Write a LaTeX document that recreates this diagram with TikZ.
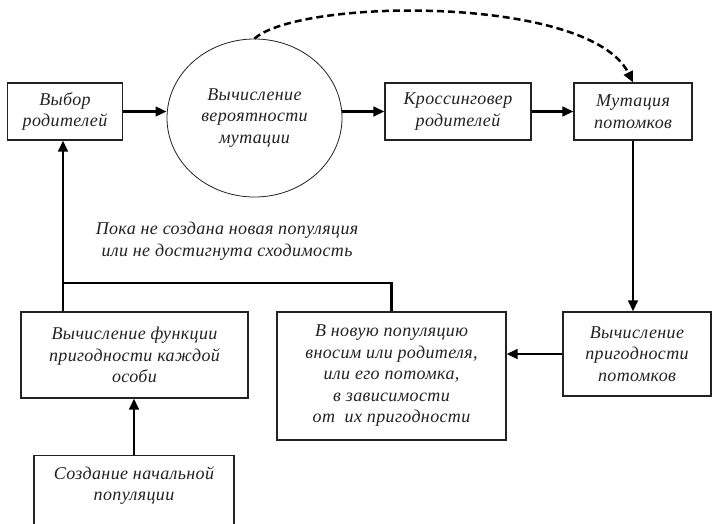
\documentclass[tikz,border=0pt]{standalone}
\usepackage{fontspec}
\setmainfont{Liberation Serif}
\usetikzlibrary{arrows.meta,shapes.geometric,calc}
\definecolor{ink}{HTML}{222222}
\begin{document}
\begin{tikzpicture}[x=1pt,y=-1pt,
  every node/.style={font=\fontsize{18}{21.5}\selectfont\itshape\addfontfeatures{LetterSpace=2}, text=ink, align=center},
  box/.style={draw=ink, line width=1.1pt, rectangle, inner sep=0pt},
  oval/.style={draw=ink, line width=0.8pt, ellipse, inner sep=0pt},
  conn/.style={draw=black, line width=2.5pt},
  arr/.style={conn, -{Triangle[length=11pt,width=9.5pt]}},
  dasharr/.style={arr, dash pattern=on 7pt off 4pt}]
\useasboundingbox (0,0) rectangle (712,523);
\fill[white] (0,0) rectangle (712,523);
% nodes
\node[box, minimum width=115, minimum height=57] (sel) at (65,111.5) {Выбор\\родителей};
\node[oval, minimum width=175, minimum height=158] (ell) at (254.5,118) {Вычисление\\вероятности\\мутации};
\node[box, minimum width=146, minimum height=57] (cross) at (458,111.5) {Кроссинговер\\родителей};
\node[box, minimum width=118, minimum height=57] (mut) at (633,111.5) {Мутация\\потомков};
\node[box, minimum width=148, minimum height=84] (calc) at (637,354) {Вычисление\\пригодности\\потомков};
\node[box, minimum width=229, minimum height=128] (newpop) at (391.5,376) {В новую популяцию\\вносим или родителя,\\или его потомка,\\в зависимости\\от\ \ их пригодности};
\node[box, minimum width=227, minimum height=86] (fit) at (134.5,355) {Вычисление функции\\пригодности каждой\\особи};
\node[box, anchor=north, minimum width=200, minimum height=84] (create) at (134,455) {Создание начальной\\популяции\\ \strut};
\node (loop) at (227,241) {Пока не создана новая популяция\\или не достигнута сходимость};
\coordinate (j) at (63,283);
% connectors
\draw[arr] (sel.east) -- (sel.east -| ell.west);
\draw[arr] (ell.east |- cross.west) -- (cross.west);
\draw[arr] (cross.east) -- (mut.west);
\draw[dasharr] (ell.north) .. controls (300,-2) and (590,-5) .. (mut.north);
\draw[arr] (mut.south) -- (mut.south |- calc.north);
\draw[arr] (calc.west) -- (newpop.east |- calc.west);
\draw[arr] (create.north) -- (create.north |- fit.south);
\draw[conn] (newpop.north) |- (j);
\draw[arr] (fit.north -| j) -- (sel.south -| j);
\end{tikzpicture}
\end{document}
